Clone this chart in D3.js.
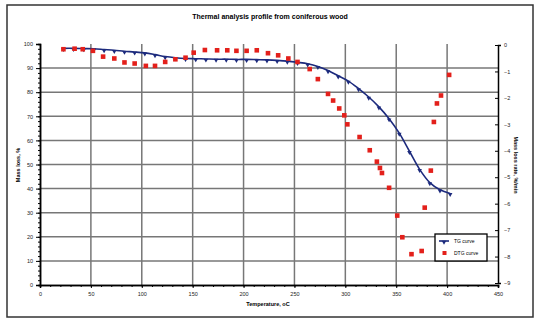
<!DOCTYPE html>
<html>
<head>
<meta charset="utf-8">
<script src="https://cdn.jsdelivr.net/npm/d3@7"></script>
<style>
  body { margin: 0; background: #fff; }
  svg { font-family: "Liberation Sans", Arial, sans-serif; }
</style>
</head>
<body>
<svg id="chart" width="539" height="324"></svg>
<script>
// TG curve (mass, %) vs temperature
const tgTemp = [23, 33, 43, 53, 63, 73, 83, 93, 103, 113, 123, 133, 143, 153, 163, 173, 183, 193, 203, 213,
  223, 233, 243, 253, 263, 273, 283, 293, 303, 313, 323, 333, 343, 353, 363, 373, 383, 393, 403];
const tgMass = [98.2, 98.2, 98.1, 98.0, 97.7, 97.4, 97.0, 96.7, 96.3, 95.6, 94.8, 94.3, 94.0, 93.9, 93.8, 93.7,
  93.7, 93.6, 93.6, 93.5, 93.4, 93.2, 92.9, 92.4, 91.8, 90.7, 89.0, 86.8, 84.6, 81.5, 78.0, 73.9, 69.0, 63.0,
  55.5, 48.0, 42.5, 39.5, 38.0];

// DTG curve (mass loss rate, %/min) vs temperature
const dtgTemp = [23, 34, 42, 52, 62, 73, 83, 93, 104, 113, 123, 133, 143, 151, 162, 174, 184, 193, 203, 213,
  224, 234, 244, 253, 265, 273, 283, 288, 294, 299, 302, 314, 324, 331, 334, 336, 343, 351, 356, 365,
  375, 378, 384, 387, 390, 394, 402];
const dtgRate = [-0.16, -0.14, -0.16, -0.22, -0.44, -0.51, -0.66, -0.70, -0.79, -0.79, -0.64, -0.54, -0.48,
  -0.29, -0.19, -0.2, -0.2, -0.22, -0.22, -0.2, -0.31, -0.39, -0.51, -0.64, -0.91, -1.29, -1.85, -2.1, -2.4,
  -2.66, -3.0, -3.48, -3.98, -4.41, -4.65, -4.84, -5.4, -6.45, -7.27, -7.91, -7.79, -6.15, -4.75, -2.91,
  -2.21, -1.91, -1.13];

const tempTicks = [0, 50, 100, 150, 200, 250, 300, 350, 400, 450];
const massTicks = [0, 10, 20, 30, 40, 50, 60, 70, 80, 90, 100];
const rateTicks = [0, -1, -2, -3, -4, -5, -6, -7, -8, -9];

const svg = d3.select('#chart');
const plot = { left: 40, right: 498, top: 44, bottom: 285 };

// outer frame
svg.append('rect')
  .attr('x', 7).attr('y', 5).attr('width', 526).attr('height', 312)
  .attr('fill', 'none').attr('stroke', '#333').attr('stroke-width', 1.5);

const x = d3.scaleLinear().domain([0, 450]).range([plot.left, plot.right]);
const yMass = d3.scaleLinear().domain([0, 100]).range([plot.bottom, plot.top]);
const yRate = d3.scaleLinear().domain([-9, 0]).range([plot.bottom - 2, plot.top + 1]);

// grid
const grid = svg.append('g').attr('stroke', '#777').attr('stroke-width', 1.5);
grid.selectAll('.vg').data(tempTicks.slice(1, -1)).enter().append('line')
  .attr('x1', d => x(d)).attr('x2', d => x(d))
  .attr('y1', plot.top).attr('y2', plot.bottom);
grid.selectAll('.hg').data(massTicks.slice(1, -1)).enter().append('line')
  .attr('x1', plot.left).attr('x2', plot.right)
  .attr('y1', d => yMass(d)).attr('y2', d => yMass(d));

// axes
svg.append('g').attr('transform', `translate(0,${plot.bottom})`)
  .call(d3.axisBottom(x).tickValues(tempTicks).tickSize(3).tickPadding(4));
svg.append('g').attr('transform', `translate(0,${plot.bottom})`)
  .call(d3.axisBottom(x).tickValues(d3.range(0, 451, 10)).tickSize(2).tickFormat(''));

svg.append('g').attr('transform', `translate(${plot.left},0)`)
  .call(d3.axisLeft(yMass).tickValues(massTicks).tickSize(4).tickPadding(3));
svg.append('g').attr('transform', `translate(${plot.left},0)`)
  .call(d3.axisLeft(yMass).tickValues(d3.range(0, 101, 2)).tickSize(2).tickFormat(''));

svg.append('g').attr('transform', `translate(${plot.right},0)`)
  .call(d3.axisRight(yRate).tickValues(rateTicks).tickSizeInner(-3).tickSizeOuter(3).tickPadding(6));

svg.selectAll('.domain').attr('stroke', '#000').attr('stroke-width', 1.5);
svg.selectAll('.tick line').attr('stroke', '#000');
svg.selectAll('.tick text').attr('font-size', 5.5).attr('fill', '#222');

// titles
svg.append('text').attr('x', 270).attr('y', 19).attr('text-anchor', 'middle')
  .attr('font-size', 7).attr('font-weight', 'bold').text('Thermal analysis profile from coniferous wood');
svg.append('text').attr('x', 268).attr('y', 306).attr('text-anchor', 'middle')
  .attr('font-size', 5.5).attr('font-weight', 'bold').text('Temperature, oC');
svg.append('text').attr('transform', 'translate(20,165) rotate(-90)').attr('text-anchor', 'middle')
  .attr('font-size', 5.5).attr('font-weight', 'bold').text('Mass loss, %');
svg.append('text').attr('transform', 'translate(514,165) rotate(90)').attr('text-anchor', 'middle')
  .attr('font-size', 5.5).attr('font-weight', 'bold').text('Mass loss rate, %/min');

const blue = '#1c2a7d';
const red = '#e3201b';

// TG curve
const tg = tgTemp.map((t, i) => ({ t, v: tgMass[i] }));
svg.append('path').datum(tg)
  .attr('fill', 'none').attr('stroke', blue).attr('stroke-width', 1.6)
  .attr('d', d3.line().x(d => x(d.t)).y(d => yMass(d.v)).curve(d3.curveCatmullRom));
const tri = d3.symbol().type(d3.symbolTriangle).size(9);
svg.selectAll('.tgp').data(tg).enter().append('path')
  .attr('d', tri).attr('fill', blue)
  .attr('transform', d => `translate(${x(d.t)},${yMass(d.v) + 1}) rotate(180)`);

// DTG points
const dtg = dtgTemp.map((t, i) => ({ t, v: dtgRate[i] }));
svg.selectAll('.dtgp').data(dtg).enter().append('rect')
  .attr('x', d => x(d.t) - 2.3).attr('y', d => yRate(d.v) - 2.3)
  .attr('width', 4.6).attr('height', 4.6).attr('fill', red);

// legend
const lg = svg.append('g').attr('transform', 'translate(435,234)');
lg.append('rect').attr('width', 52).attr('height', 27)
  .attr('fill', '#fff').attr('stroke', '#000').attr('stroke-width', 1.3);
lg.append('line').attr('x1', 4).attr('x2', 14).attr('y1', 7).attr('y2', 7)
  .attr('stroke', blue).attr('stroke-width', 1.6);
lg.append('path').attr('d', tri).attr('fill', blue).attr('transform', 'translate(9,8) rotate(180)');
lg.append('text').attr('x', 19).attr('y', 9).attr('font-size', 5).text('TG curve');
lg.append('rect').attr('x', 7.5).attr('y', 17).attr('width', 4).attr('height', 4).attr('fill', red);
lg.append('text').attr('x', 19).attr('y', 21).attr('font-size', 5).text('DTG curve');
</script>
</body>
</html>
